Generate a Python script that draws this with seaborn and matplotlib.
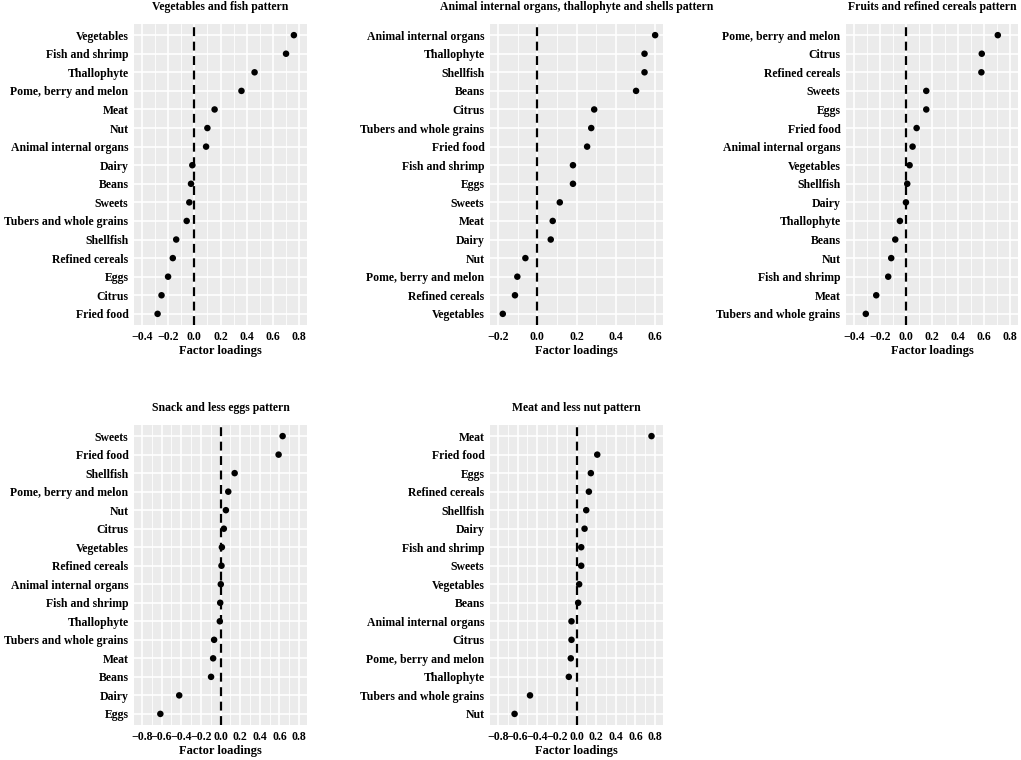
import matplotlib
matplotlib.use("Agg")
import matplotlib.pyplot as plt
import seaborn as sns
import numpy as np
import pandas as pd

# ---- data ----
p1_title = "Vegetables and fish pattern"
p1_foods = ["Vegetables", "Fish and shrimp", "Thallophyte", "Pome, berry and melon", "Meat", "Nut",
            "Animal internal organs", "Dairy", "Beans", "Sweets", "Tubers and whole grains", "Shellfish",
            "Refined cereals", "Eggs", "Citrus", "Fried food"]
p1_vals = [0.76, 0.70, 0.46, 0.36, 0.155, 0.10, 0.09, -0.015, -0.025, -0.038, -0.058, -0.138,
           -0.164, -0.20, -0.25, -0.28]

p2_title = "Animal internal organs, thallophyte and shells pattern"
p2_foods = ["Animal internal organs", "Thallophyte", "Shellfish", "Beans", "Citrus", "Tubers and whole grains",
            "Fried food", "Fish and shrimp", "Eggs", "Sweets", "Meat", "Dairy", "Nut",
            "Pome, berry and melon", "Refined cereals", "Vegetables"]
p2_vals = [0.60, 0.546, 0.546, 0.503, 0.29, 0.275, 0.254, 0.182, 0.182, 0.115, 0.079, 0.069, -0.06,
           -0.101, -0.113, -0.175]

p3_title = "Fruits and refined cereals pattern"
p3_foods = ["Pome, berry and melon", "Citrus", "Refined cereals", "Sweets", "Eggs", "Fried food",
            "Animal internal organs", "Vegetables", "Shellfish", "Dairy", "Thallophyte", "Beans", "Nut",
            "Fish and shrimp", "Meat", "Tubers and whole grains"]
p3_vals = [0.705, 0.582, 0.579, 0.156, 0.156, 0.082, 0.051, 0.028, 0.01, 0.0, -0.046, -0.082, -0.113,
           -0.136, -0.228, -0.308]

p4_title = "Snack and less eggs pattern"
p4_foods = ["Sweets", "Fried food", "Shellfish", "Pome, berry and melon", "Nut", "Citrus", "Vegetables",
            "Refined cereals", "Animal internal organs", "Fish and shrimp", "Thallophyte",
            "Tubers and whole grains", "Meat", "Beans", "Dairy", "Eggs"]
p4_vals = [0.632, 0.591, 0.144, 0.079, 0.055, 0.034, 0.014, 0.01, 0.003, -0.003, -0.007, -0.065,
           -0.075, -0.096, -0.42, -0.612]

p5_title = "Meat and less nut pattern"
p5_foods = ["Meat", "Fried food", "Eggs", "Refined cereals", "Shellfish", "Dairy", "Fish and shrimp",
            "Sweets", "Vegetables", "Beans", "Animal internal organs", "Citrus", "Pome, berry and melon",
            "Thallophyte", "Tubers and whole grains", "Nut"]
p5_vals = [0.763, 0.211, 0.146, 0.126, 0.099, 0.082, 0.048, 0.048, 0.027, 0.017, -0.051, -0.051,
           -0.058, -0.078, -0.473, -0.63]

x_breaks_a = [-0.4, -0.2, 0.0, 0.2, 0.4, 0.6, 0.8]
x_breaks_b = [-0.2, 0.0, 0.2, 0.4, 0.6]
x_breaks_c = [-0.8, -0.6, -0.4, -0.2, 0.0, 0.2, 0.4, 0.6, 0.8]

panels = [
    (p1_title, p1_foods, p1_vals, x_breaks_a, (134, 24, 307, 325)),
    (p2_title, p2_foods, p2_vals, x_breaks_b, (490, 24, 663, 325)),
    (p3_title, p3_foods, p3_vals, x_breaks_a, (846, 24, 1018, 325)),
    (p4_title, p4_foods, p4_vals, x_breaks_c, (134, 425, 307, 725)),
    (p5_title, p5_foods, p5_vals, x_breaks_c, (490, 425, 663, 725)),
]

sns.set_theme(style="darkgrid", rc={
    "axes.facecolor": "#EBEBEB",
    "grid.color": "white",
    "axes.edgecolor": "#EBEBEB",
    "xtick.color": "#333333",
    "ytick.color": "#333333",
    "axes.labelcolor": "black",
    "text.color": "black",
})
plt.rcParams["font.family"] = ["Liberation Serif", "DejaVu Serif"]
plt.rcParams["font.weight"] = "bold"

W, H = 1021, 760
fig = plt.figure(figsize=(W / 100, H / 100), dpi=100)
fig.patch.set_facecolor("white")

for title, foods, vals, breaks, (l, t, r, b) in panels:
    ax = fig.add_axes([l / W, 1 - b / H, (r - l) / W, (b - t) / H])
    df = pd.DataFrame({"food": foods, "loading": vals})
    lo, hi = breaks[0], breaks[-1]
    pad = (hi - lo) * 0.05
    ax.set_xlim(lo - pad, hi + pad)
    # minor grid
    step = breaks[1] - breaks[0]
    minors = np.arange(lo - step / 2, hi + step, step)
    for m in minors:
        if lo - pad < m < hi + pad:
            ax.axvline(m, color="white", lw=0.6, zorder=0.5)
    ax.axvline(0, color="black", lw=1.6, ls=(0, (4, 2.5)), zorder=2)
    sns.scatterplot(data=df, x="loading", y="food", ax=ax, color="black", s=22,
                    edgecolor="none", zorder=3)
    ax.set_ylim(len(foods) - 1 + 0.6, -0.6)
    ax.set_xticks(breaks)
    ax.set_xticklabels([f"{v:.1f}".replace("-", "\u2212") if v != 0 else "0.0" for v in breaks],
                       fontsize=8.5, fontweight="bold", color="black")
    ax.set_yticks(range(len(foods)))
    ax.set_yticklabels(foods, fontsize=8.5, fontweight="bold", color="black")
    ax.grid(True, axis="both", color="white", lw=1.2, zorder=0.6)
    ax.set_axisbelow(True)
    ax.tick_params(axis="both", length=2.5, width=0.8, pad=1.5, colors="#333333",
                   labelcolor="black")
    ax.set_xlabel("Factor loadings", fontsize=9, fontweight="bold", labelpad=2, color="black")
    ax.set_ylabel("")
    ax.set_title(title, fontsize=8.5, fontweight="bold", pad=10, color="black")
    for s in ax.spines.values():
        s.set_visible(False)

fig.savefig("out.png", dpi=100)
